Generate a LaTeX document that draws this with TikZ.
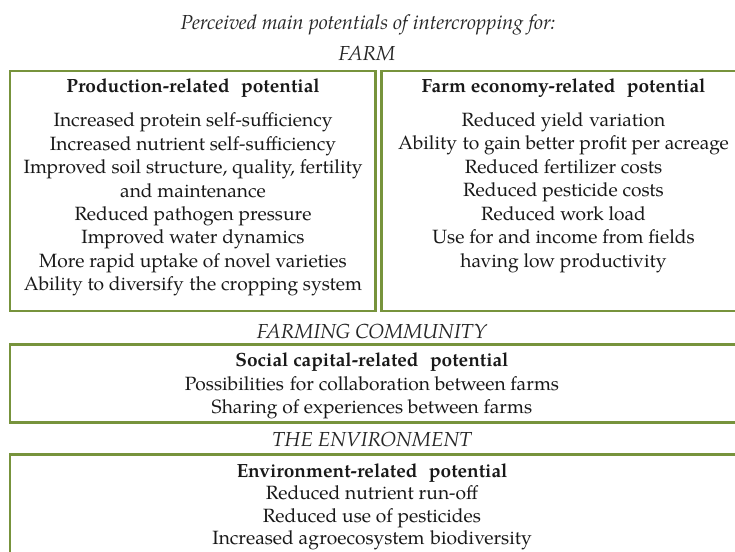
\documentclass[tikz,border=0pt]{standalone}
\usepackage{fontspec}
\setmainfont{TeX Gyre Pagella}
\definecolor{boxgreen}{RGB}{119,147,60}
\begin{document}
\begin{tikzpicture}[x=1pt,y=-1pt,
  frame/.style={draw=boxgreen, line width=2.7pt},
  txt/.style={font=\fontsize{19.2}{23.45}\selectfont, align=center, inner sep=0pt, text=black!90},
  line/.style={font=\fontsize{19.2}{22}\selectfont, anchor=base, inner sep=0pt, text=black!90},
  head/.style={font=\fontsize{19.1}{22}\selectfont\bfseries, inner sep=0pt, text=black!90},
  sect/.style={font=\fontsize{20.3}{22}\selectfont\itshape, inner sep=0pt, text=black!85}]
\clip (0,0) rectangle (735,551);
\fill[white] (0,0) rectangle (735,551);
% boxes
\draw[frame] (10,71) rectangle (375.5,311);
\draw[frame] (381.5,71) rectangle (745,311);
\draw[frame] (10,344.5) rectangle (745,422.5);
\draw[frame] (10,454.5) rectangle (745,600);
% titles
\node[sect] (title) at (368,25) {Perceived main potentials of intercropping for:};
\node[sect] (farm) at (367,54) {FARM};
\node[sect] (community) at (372,332) {FARMING COMMUNITY};
\node[sect] (environment) at (372,440) {THE ENVIRONMENT};
% production
\node[head] (prodhead) at (193,88) {Production-related\hspace{0.6em}potential};
\node[txt] (prodlist) at (193,204.5) {Increased protein self-sufficiency\\
Increased nutrient self-sufficiency\\
Improved soil structure, quality, fertility\\
and maintenance\\
Reduced pathogen pressure\\
Improved water dynamics\\
More rapid uptake of novel varieties\\
Ability to diversify\hspace{0.3em}the cropping system};
% economy
\node[head] (econhead) at (563.5,88) {Farm economy-related\hspace{0.6em}potential};
\node[txt] (econlist) at (563.5,192.5) {Reduced yield\hspace{0.3em}variation\\
Ability\hspace{0.3em}to gain better profit per acreage\\
Reduced fertilizer costs\\
Reduced pesticide costs\\
Reduced work load\\
Use for and income from fields\\
having low productivity};
% social
\node[head] (sochead) at (372,362) {Social capital-related\hspace{0.6em}potential};
\node[txt] (soclist) at (372,397.5) {Possibilities\hspace{0.3em}for collaboration between farms\\
Sharing of experiences between farms};
% environment
\node[head] (envhead) at (372,473) {Environment-related\hspace{0.6em}potential};
\node[line] (env1) at (372,499.2) {Reduced nutrient run-off};
\node[line] (env2) at (372,522) {Reduced use of pesticides};
\node[line] (env3) at (372,544.6) {Increased agroecosystem\hspace{0.3em}biodiversity};
\end{tikzpicture}
\end{document}
